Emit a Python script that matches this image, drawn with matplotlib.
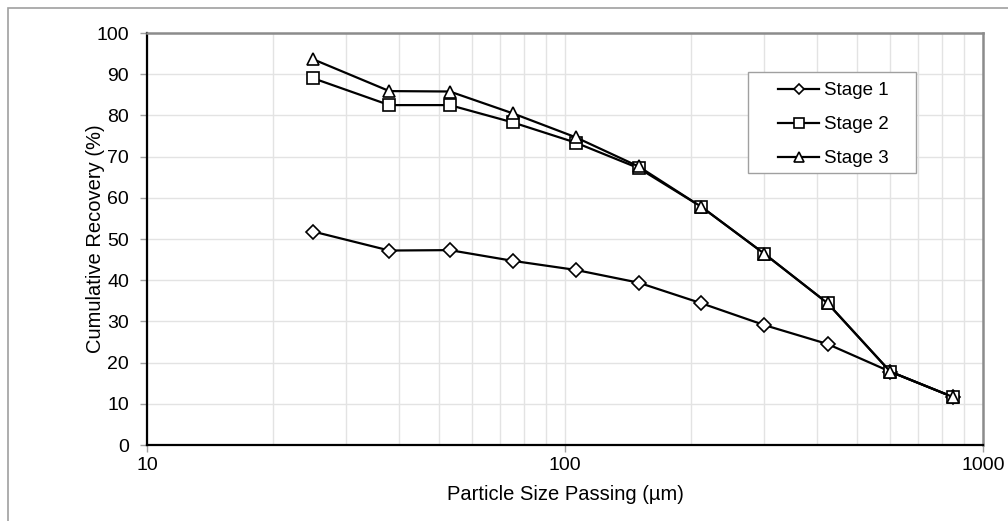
import matplotlib
matplotlib.use("Agg")
import matplotlib.pyplot as plt
from matplotlib.patches import Rectangle
from matplotlib.ticker import LogLocator, NullFormatter, FixedLocator

plt.rcParams["font.family"] = ["Liberation Sans", "DejaVu Sans"]

# sieve sizes (um) and cumulative recovery (%) per stage
sizes = [25, 38, 53, 75, 106, 150, 212, 300, 425, 600, 850]
stage1 = [51.8, 47.2, 47.3, 44.7, 42.5, 39.4, 34.4, 29.1, 24.5, 17.8, 11.6]
stage2 = [89.0, 82.5, 82.5, 78.3, 73.4, 67.2, 57.8, 46.4, 34.4, 17.8, 11.6]
stage3 = [93.6, 85.9, 85.8, 80.5, 74.7, 67.6, 57.8, 46.4, 34.4, 17.8, 11.6]

fig = plt.figure(figsize=(10.08, 5.21), dpi=100)
ax = fig.add_axes([147 / 1008, 76 / 521, 836 / 1008, 412 / 521])

# outer chart frame
fig.patches.append(Rectangle((8 / 1008, -0.1), 1.2, (513 / 521) + 0.1,
                             transform=fig.transFigure, fill=False,
                             edgecolor="#a0a0a0", linewidth=1.2))

line_kw = dict(color="black", linewidth=1.6, markerfacecolor="white",
               markeredgecolor="black", markeredgewidth=1.2)
ax.plot(sizes, stage1, marker="D", markersize=7, label="Stage 1", **line_kw)
ax.plot(sizes, stage2, marker="s", markersize=9, label="Stage 2", **line_kw)
ax.plot(sizes, stage3, marker="^", markersize=9, label="Stage 3", **line_kw)

ax.set_xscale("log")
ax.set_xlim(10, 1000)
ax.set_ylim(0, 100)
ax.set_yticks(range(0, 101, 10))
ax.xaxis.set_major_locator(FixedLocator([10, 100, 1000]))
ax.xaxis.set_major_formatter(plt.FuncFormatter(lambda v, p: "%d" % v))
ax.xaxis.set_minor_locator(LogLocator(base=10, subs=range(2, 10)))
ax.xaxis.set_minor_formatter(NullFormatter())

ax.grid(True, which="both", color="#e3e3e3", linewidth=1.0)
ax.set_axisbelow(True)
ax.tick_params(axis="both", which="major", labelsize=14, color="#a0a0a0",
               length=5, width=1.0, direction="out")
ax.tick_params(axis="y", pad=8)
ax.tick_params(axis="x", pad=4)
ax.tick_params(axis="x", which="minor", length=0)

for side in ("left", "bottom"):
    ax.spines[side].set_color("black")
    ax.spines[side].set_linewidth(1.6)
for side in ("top", "right"):
    ax.spines[side].set_color("#8c8c8c")
    ax.spines[side].set_linewidth(1.8)

ax.set_xlabel("Particle Size Passing (µm)", fontsize=14.5)
ax.set_ylabel("Cumulative Recovery (%)", fontsize=14.5)
ax.xaxis.set_label_coords(0.5, -0.098)
ax.yaxis.set_label_coords(-0.050, 0.5)

# legend box drawn separately so its padding can be set freely
ax.add_patch(Rectangle((0.719, 0.660), 0.201, 0.245, transform=ax.transAxes,
                       facecolor="white", edgecolor="#a0a0a0",
                       linewidth=1.0, zorder=5))
leg = ax.legend(loc="upper left", bbox_to_anchor=(0.755, 0.881),
                fontsize=13.5, frameon=False, handlelength=2.2,
                handletextpad=0.25, borderpad=0, labelspacing=0.9,
                borderaxespad=0, markerscale=0.8)
leg.set_zorder(6)

fig.savefig("out.png", dpi=100)
